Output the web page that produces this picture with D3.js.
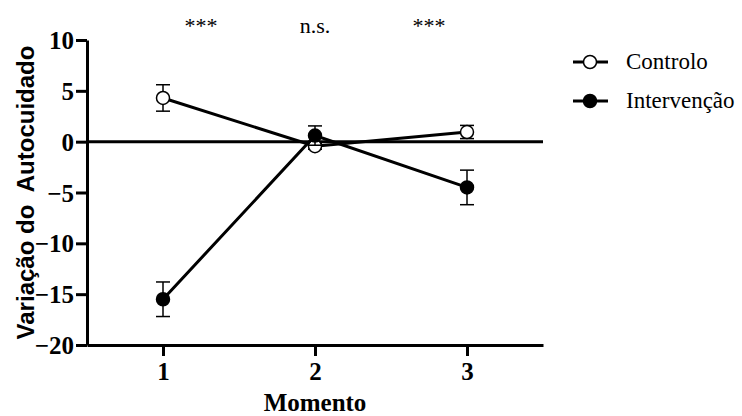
<!DOCTYPE html>
<html>
<head>
<meta charset="utf-8">
<script src="https://cdn.jsdelivr.net/npm/d3@7"></script>
<style>
  body { margin: 0; background: #fff; }
  svg { display: block; }
  .serif { font-family: "Liberation Serif", "Times New Roman", Times, "DejaVu Serif", serif; }
  .sans  { font-family: "Liberation Sans", Arial, Helvetica, sans-serif; }
</style>
</head>
<body>
<svg id="chart" width="742" height="416"></svg>
<script>
// data
let moments = [1, 2, 3];
let controlMean = [4.3, -0.45, 0.95];
let controlErr  = [1.3, 0.3, 0.65];
let interMean   = [-15.5, 0.6, -4.5];
let interErr    = [1.7, 0.95, 1.7];
let yTicks = [10, 5, 0, -5, -10, -15, -20];
let marks = ["***", "n.s.", "***"];
let markX = [1.25, 2, 2.75];

let kChart = { x: 87, y: 40, w: 456, h: 305 };

let svg = d3.select("#chart");

let x = d3.scaleLinear().domain([0.5, 3.5]).range([kChart.x, kChart.x + kChart.w]);
let y = d3.scaleLinear().domain([-20, 10]).range([kChart.y + kChart.h, kChart.y]);

// zero line
svg.append("line")
  .attr("x1", x(0.5)).attr("x2", x(3.5))
  .attr("y1", y(0)).attr("y2", y(0))
  .attr("stroke", "#000").attr("stroke-width", 3);

// y axis
let yAxis = svg.append("g")
  .attr("transform", "translate(" + kChart.x + ",0)")
  .call(d3.axisLeft(y).tickValues(yTicks).tickSize(11).tickPadding(2).tickSizeOuter(0))
  .attr("font-family", null).attr("font-size", null);
yAxis.select(".domain").attr("stroke-width", 3);
yAxis.selectAll(".tick line").attr("stroke-width", 3);
yAxis.selectAll(".tick text")
  .attr("class", "serif")
  .attr("font-weight", "bold").attr("font-size", 25)
  .attr("dy", "0.34em");

// x axis
let xAxis = svg.append("g")
  .attr("transform", "translate(0," + (kChart.y + kChart.h) + ")")
  .call(d3.axisBottom(x).tickValues(moments).tickFormat(d3.format("d")).tickSize(11).tickPadding(6).tickSizeOuter(0))
  .attr("font-family", null).attr("font-size", null);
xAxis.select(".domain").attr("stroke-width", 3);
xAxis.selectAll(".tick line").attr("stroke-width", 3);
xAxis.selectAll(".tick text")
  .attr("class", "serif")
  .attr("font-weight", "bold").attr("font-size", 25);

// axis titles
svg.append("text")
  .attr("class", "sans")
  .attr("transform", "translate(34," + (kChart.y + kChart.h / 2) + ") rotate(-90)")
  .attr("text-anchor", "middle")
  .attr("font-weight", "bold").attr("font-size", 24)
  .attr("xml:space", "preserve")
  .text("Variação do  Autocuidado");

svg.append("text")
  .attr("class", "serif")
  .attr("x", x(2)).attr("y", 411)
  .attr("text-anchor", "middle")
  .attr("font-weight", "bold").attr("font-size", 25)
  .text("Momento");

// significance marks
svg.selectAll(".sig").data(marks).enter().append("text")
  .attr("class", "serif")
  .attr("x", (d, i) => x(markX[i]))
  .attr("y", 33)
  .attr("text-anchor", "middle")
  .attr("font-size", 22)
  .text(d => d);

function drawSeries(means, errs, fill){
  let pts = moments.map((m, i) => [m, means[i], errs[i]]);

  svg.append("path")
    .datum(pts)
    .attr("fill", "none").attr("stroke", "#000").attr("stroke-width", 3)
    .attr("d", d3.line().x(d => x(d[0])).y(d => y(d[1])));

  let eb = svg.append("g").attr("stroke", "#000").attr("stroke-width", 1.5);
  pts.forEach(function(d){
    eb.append("line").attr("x1", x(d[0])).attr("x2", x(d[0]))
      .attr("y1", y(d[1] - d[2])).attr("y2", y(d[1] + d[2]));
    [d[1] - d[2], d[1] + d[2]].forEach(function(v){
      eb.append("line").attr("x1", x(d[0]) - 7).attr("x2", x(d[0]) + 7)
        .attr("y1", y(v)).attr("y2", y(v));
    });
  });

  svg.selectAll(null).data(pts).enter().append("circle")
    .attr("cx", d => x(d[0])).attr("cy", d => y(d[1]))
    .attr("r", 6.5)
    .attr("fill", fill).attr("stroke", "#000").attr("stroke-width", 1.5);
}

drawSeries(controlMean, controlErr, "#fff");
drawSeries(interMean, interErr, "#000");

// legend
let legend = [["Controlo", "#fff", 62], ["Intervenção", "#000", 101]];
legend.forEach(function(l){
  let g = svg.append("g");
  g.append("line").attr("x1", 573).attr("x2", 608).attr("y1", l[2]).attr("y2", l[2])
    .attr("stroke", "#000").attr("stroke-width", 3);
  g.append("circle").attr("cx", 590).attr("cy", l[2]).attr("r", 6.5)
    .attr("fill", l[1]).attr("stroke", "#000").attr("stroke-width", 1.5);
  g.append("text").attr("class", "serif").attr("x", 626).attr("y", l[2] + 7)
    .attr("font-size", 23)
    .text(l[0]);
});
</script>
</body>
</html>
